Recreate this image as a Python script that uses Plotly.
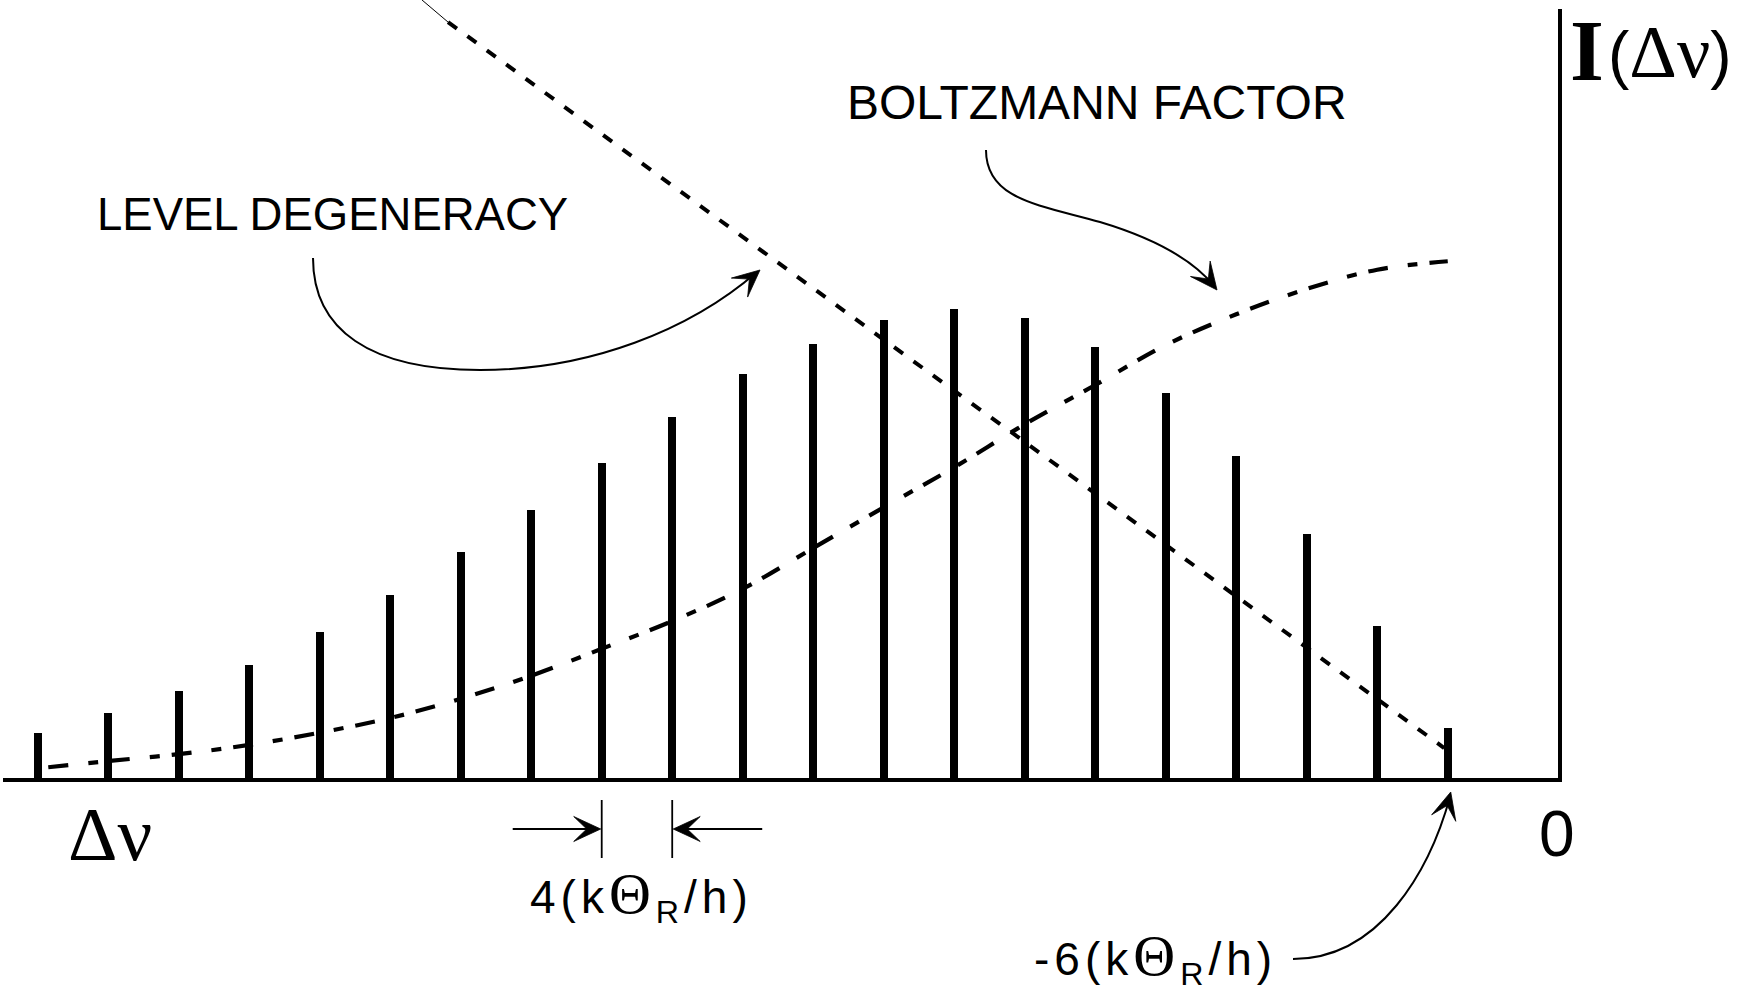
import plotly.graph_objects as go

# ---- data -------------------------------------------------------------
# spectral lines, counted from the left, and their relative intensities
line_index = list(range(1, 22))
line_height = [5.9, 8.4, 11.3, 14.7, 19.0, 23.8, 29.4, 34.9, 40.9, 47.0, 52.6,
               56.4, 59.6, 61.0, 59.8, 56.1, 50.1, 41.9, 31.7, 19.8, 6.5]

# Boltzmann factor envelope
boltz_x = [1.15, 2, 3, 4, 5, 6, 7, 8, 9, 10, 11, 12, 13, 14, 15, 16, 17, 18, 19, 20, 21]
boltz_y = [1.4, 2.2, 3.1, 4.3, 5.9, 7.8, 10.3, 13.3, 16.8, 20.4, 24.6, 29.9,
           35.2, 40.4, 46.0, 51.1, 56.3, 60.3, 63.6, 66.1, 67.2]

# level degeneracy envelope
deg_x = [6.82, 9, 11, 13, 15, 17, 19, 20.95]
deg_y = [98.3, 83.7, 70.4, 57.0, 43.7, 30.3, 17.0, 3.9]

# ---- page geometry ----------------------------------------------------
W, H = 1746, 992
PL, PR, PT, PB = 3, 1558, 9, 778          # plot box on the page (px)
X0, X1 = 0.5078, 22.564                    # x range (line index units)
Y0, Y1 = 0.0, 100.0                        # y range (intensity units)


def to_paper(px, py):
    return (px - PL) / (PR - PL), (PB - py) / (PB - PT)


def data_px(x, y):
    return (PL + (x - X0) / (X1 - X0) * (PR - PL),
            PB - (y - Y0) / (Y1 - Y0) * (PB - PT))


def bezier_path(start, segments):
    sx, sy = to_paper(*start)
    d = f"M {sx:.5f},{sy:.5f}"
    for seg in segments:
        pts = [to_paper(*p) for p in seg]
        d += " C " + " ".join(f"{a:.5f},{b:.5f}" for a, b in pts)
    return d


def polygon_path(points):
    pts = [to_paper(*p) for p in points]
    return "M " + " L ".join(f"{a:.5f},{b:.5f}" for a, b in pts) + " Z"


fig = go.Figure()

fig.add_trace(go.Bar(
    x=line_index, y=line_height, width=0.115,
    marker=dict(color="black", line=dict(width=0)),
    hoverinfo="skip", showlegend=False,
))

fig.add_trace(go.Scatter(
    x=boltz_x, y=boltz_y, mode="lines", line_shape="spline",
    line=dict(color="black", width=4.2, dash="20px,20px,10px,12px"),
    hoverinfo="skip", showlegend=False,
))

fig.add_trace(go.Scatter(
    x=deg_x, y=deg_y, mode="lines",
    line=dict(color="black", width=4.0, dash="11px,13px"),
    hoverinfo="skip", showlegend=False,
))

shapes = []
annotations = []

# thin lead-in of the degeneracy line at the top edge
dx0, dy0 = data_px(deg_x[0], deg_y[0])
tx0, ty0 = to_paper(dx0 - 26, 0)
tx1, ty1 = to_paper(dx0, dy0)
shapes.append(dict(type="line", xref="paper", yref="paper",
                   x0=tx0, y0=ty0, x1=tx1, y1=ty1,
                   line=dict(color="black", width=1)))

curve_line = dict(color="black", width=2)


def head(tip, direction, length=27, half=12.5, notch=13):
    """Filled, notched arrowhead whose point sits at `tip` (page px)."""
    ux, uy = direction
    n = (ux * ux + uy * uy) ** 0.5
    ux, uy = ux / n, uy / n
    vx, vy = -uy, ux
    tx, ty = tip
    pts = [
        (tx, ty),
        (tx - ux * length + vx * half, ty - uy * length + vy * half),
        (tx - ux * (length - notch), ty - uy * (length - notch)),
        (tx - ux * length - vx * half, ty - uy * length - vy * half),
    ]
    shapes.append(dict(type="path", xref="paper", yref="paper",
                       path=polygon_path(pts), fillcolor="black",
                       line=dict(color="black", width=0.8)))


# curved pointer from "LEVEL DEGENERACY"
shapes.append(dict(type="path", xref="paper", yref="paper", line=curve_line,
                   path=bezier_path((313, 258), [[(313, 330), (370, 370), (480, 370)],
                                                 [(590, 370), (690, 330), (757, 272)]])))
head((760, 270), (70, -60))

# curved pointer from "BOLTZMANN FACTOR"
shapes.append(dict(type="path", xref="paper", yref="paper", line=curve_line,
                   path=bezier_path((986, 150), [[(986, 200), (1040, 205), (1100, 222)],
                                                 [(1160, 240), (1195, 262), (1215, 287)]])))
head((1217, 290), (22, 28))

# curved pointer to the last line
last_px, _ = data_px(line_index[-1], 0)
shapes.append(dict(type="path", xref="paper", yref="paper", line=curve_line,
                   path=bezier_path((1293, 959), [[(1380, 959), (1430, 870), (last_px + 2.5, 796)]])))
head((last_px + 3, 792), (21, -78))

# spacing marker between two neighbouring lines
xa, _ = data_px(line_index[8], 0)
xb, _ = data_px(line_index[9], 0)
for xx in (xa, xb):
    px0, py0 = to_paper(xx, 800)
    px1, py1 = to_paper(xx, 858)
    shapes.append(dict(type="line", xref="paper", yref="paper",
                       x0=px0, y0=py0, x1=px1, y1=py1,
                       line=dict(color="black", width=1.8)))
for tip_x, tail_x, sign in ((xa - 1, xa - 89, 1), (xb + 1, xb + 90, -1)):
    px0, py0 = to_paper(tail_x, 829)
    px1, py1 = to_paper(tip_x - sign * 10, 829)
    shapes.append(dict(type="line", xref="paper", yref="paper",
                       x0=px0, y0=py0, x1=px1, y1=py1,
                       line=dict(color="black", width=1.8)))
    head((tip_x, 829), (sign, 0))


def label(text, px, py, size, family="Liberation Sans", xanchor="left",
          yanchor="middle"):
    x, y = to_paper(px, py)
    annotations.append(dict(xref="paper", yref="paper", x=x, y=y, text=text,
                            showarrow=False, xanchor=xanchor, yanchor=yanchor,
                            font=dict(family=family, size=size, color="black")))


label("LEVEL DEGENERACY", 95, 214, 45.5)
label("BOLTZMANN FACTOR", 845, 102, 48)
label("Δν", 66, 834, 77, family="Liberation Serif")
label("0", 1557, 834, 64, xanchor="center")
label("<b>I</b>", 1568, 0, 87, family="Liberation Serif", yanchor="top")
label("(<span style=\"font-family:'Liberation Serif';font-size:74px\">Δν</span>)",
      1606, 52, 64)

theta = "<span style=\"font-family:'Liberation Serif';font-size:58px\">Θ</span>"
label("<span style=\"letter-spacing:5px\">4(k" + theta + "<sub>R</sub>/h)</span>",
      641, 895, 46, xanchor="center")
label("<span style=\"letter-spacing:5px\">-6(k" + theta + "<sub>R</sub>/h)</span>",
      1155, 957, 46, xanchor="center")

axis_common = dict(showgrid=False, zeroline=False, showticklabels=False,
                   ticks="", showline=True, linecolor="black", linewidth=3.5,
                   fixedrange=True)

fig.update_layout(
    width=W, height=H,
    margin=dict(l=PL, r=W - PR, t=PT, b=H - PB, pad=0),
    paper_bgcolor="white", plot_bgcolor="white",
    xaxis=dict(range=[X0, X1], **axis_common),
    yaxis=dict(range=[Y0, Y1], side="right", **axis_common),
    shapes=shapes, annotations=annotations,
    bargap=0, showlegend=False,
)

fig.write_html("out.html")
